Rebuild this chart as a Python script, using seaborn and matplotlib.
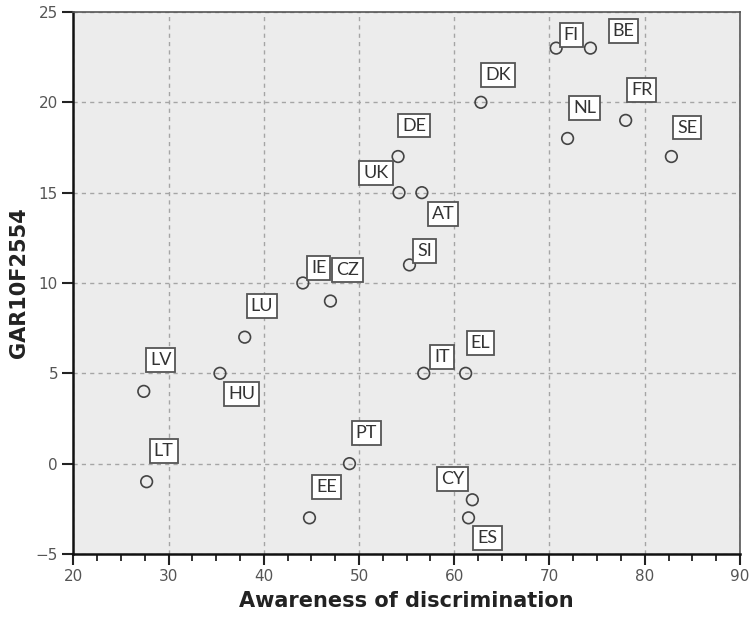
import matplotlib
matplotlib.use("Agg")
import matplotlib.pyplot as plt
from matplotlib.ticker import MultipleLocator
import seaborn as sns
import pandas as pd

# data
countries = ["FI", "BE", "DK", "NL", "FR", "SE", "DE", "UK", "AT", "SI", "IE",
             "CZ", "LU", "HU", "LV", "LT", "PT", "EE", "IT", "EL", "CY", "ES"]
awareness = [70.7, 74.3, 62.8, 71.9, 78.0, 82.8, 54.1, 54.2, 56.6, 55.3, 44.1,
             47.0, 38.0, 35.4, 27.4, 27.7, 49.0, 44.8, 56.8, 61.2, 61.9, 61.5]
gar = [23, 23, 20, 18, 19, 17, 17, 15, 15, 11, 10,
       9, 7, 5, 4, -1, 0, -3, 5, 5, -2, -3]

x_ticks = [20, 30, 40, 50, 60, 70, 80, 90]
y_ticks = [-5, 0, 5, 10, 15, 20, 25]

# where each label box sits relative to its point (pixels)
label_offsets = {
    "FI": (15, 13), "BE": (33, 17), "DK": (17, 27), "NL": (17, 30),
    "FR": (16, 30), "SE": (16, 29), "DE": (16, 31), "UK": (-23, 20),
    "AT": (21, -21), "SI": (15, 14), "IE": (16, 15), "CZ": (17, 31),
    "LU": (17, 31), "HU": (22, -21), "LV": (17, 31), "LT": (17, 31),
    "PT": (17, 31), "EE": (17, 31), "IT": (18, 16), "EL": (15, 30),
    "CY": (-20, 21), "ES": (19, -20),
}

df = pd.DataFrame({"country": countries, "awareness": awareness, "gar": gar})

sns.set_style("white")
plt.rcParams["font.family"] = ["DejaVu Sans"]

fig = plt.figure(figsize=(7.51, 6.18), dpi=100)
ax = fig.add_axes([0.0976, 0.1036, 0.8877, 0.877])
ax.set_facecolor("#ececec")

sns.scatterplot(data=df, x="awareness", y="gar", ax=ax, marker="o", s=70,
                facecolor="none", edgecolor="#444444", linewidth=1.2, zorder=3)

for name, xv, yv in zip(countries, awareness, gar):
    dx, dy = label_offsets[name]
    ax.annotate(name, (xv, yv), xytext=(dx, dy), textcoords="offset pixels",
                ha="center", va="center", fontsize=13, color="#333333",
                family="Lato", zorder=4,
                bbox=dict(boxstyle="square,pad=0.22", fc="white",
                          ec="#555555", lw=1.3))

ax.set_xlim(20, 90)
ax.set_ylim(-5, 25)
ax.set_xticks(x_ticks)
ax.set_yticks(y_ticks)
ax.xaxis.set_minor_locator(MultipleLocator(2.5))
ax.set_yticklabels([str(v).replace("-", "\u2212") for v in y_ticks])

ax.grid(True, which="major", color="#a5a5a5", linestyle=(0, (3, 3)), lw=1)
ax.set_axisbelow(True)

ax.tick_params(axis="both", which="major", direction="out", length=8, width=1.5,
               color="#222222", labelsize=11, labelcolor="#555555", pad=3,
               bottom=True, left=True)
ax.tick_params(axis="x", which="minor", direction="out", length=5, width=1.3,
               color="#222222", bottom=True)

for side in ["left", "bottom"]:
    ax.spines[side].set_color("#111111")
    ax.spines[side].set_linewidth(1.8)
for side in ["top", "right"]:
    ax.spines[side].set_visible(True)
    ax.spines[side].set_color("#555555")
    ax.spines[side].set_linewidth(1.2)

ax.set_xlabel("Awareness of discrimination", fontsize=15, fontweight="bold",
              color="#222222", labelpad=5)
ax.set_ylabel("GAR10F2554", fontsize=15, fontweight="bold", color="#222222",
              labelpad=5)

fig.savefig("out.png", dpi=100)
